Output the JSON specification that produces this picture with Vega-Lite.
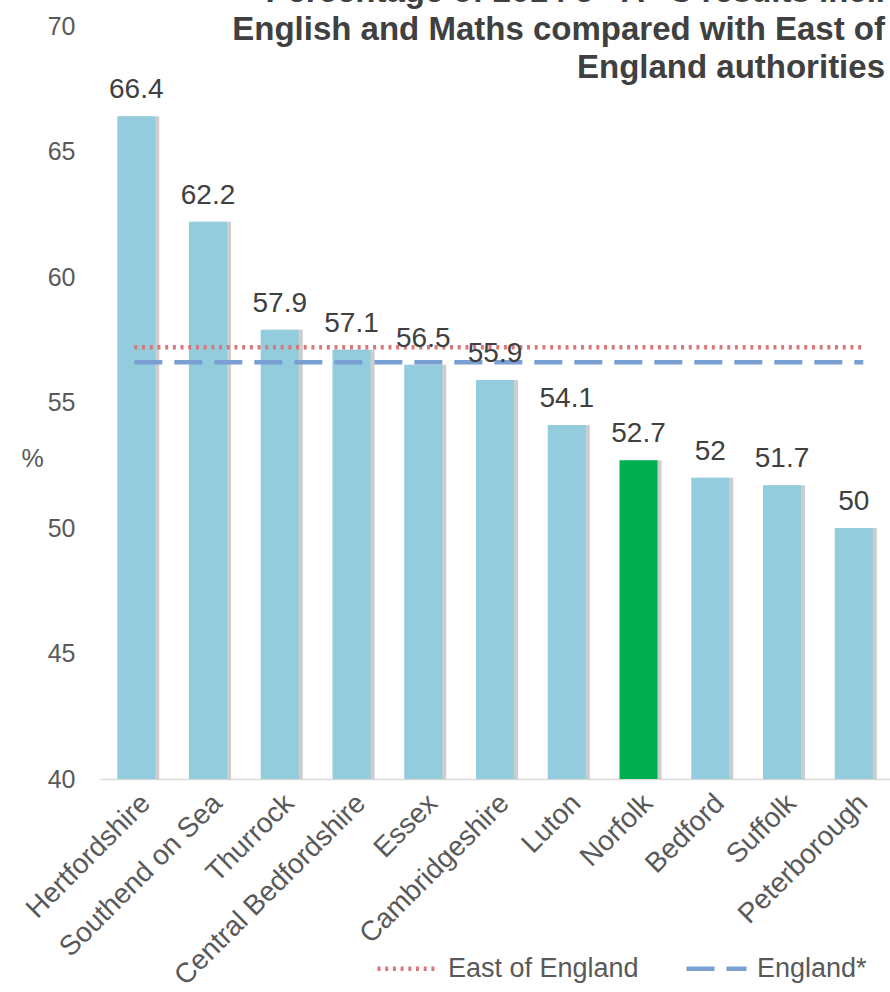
{
  "$schema": "https://vega.github.io/schema/vega-lite/v6.json",
  "width": 790,
  "height": 753,
  "autosize": {"type": "none"},
  "padding": {"left": 100, "top": 26, "right": 0, "bottom": 213},
  "background": "#ffffff",
  "config": {
    "font": "Liberation Sans",
    "view": {"stroke": null}
  },
  "title": {
    "text": ["Percentage of 2014 5+ A*-C results incl.", "English and Maths compared with East of", "England authorities"],
    "anchor": "end",
    "frame": "group",
    "fontSize": 33,
    "fontWeight": "bold",
    "color": "#404040",
    "lineHeight": 38,
    "font": "Liberation Sans",
    "offset": 0,
    "dy": 71,
    "dx": -5
  },
  "datasets": {
    "bars": [
      {"area": "Hertfordshire", "value": 66.4},
      {"area": "Southend on Sea", "value": 62.2},
      {"area": "Thurrock", "value": 57.9},
      {"area": "Central Bedfordshire", "value": 57.1},
      {"area": "Essex", "value": 56.5},
      {"area": "Cambridgeshire", "value": 55.9},
      {"area": "Luton", "value": 54.1},
      {"area": "Norfolk", "value": 52.7},
      {"area": "Bedford", "value": 52},
      {"area": "Suffolk", "value": 51.7},
      {"area": "Peterborough", "value": 50}
    ],
    "lines": [
      {"series": "East of England", "value": 57.2, "from": "Hertfordshire", "to": "Peterborough"},
      {"series": "England*", "value": 56.6, "from": "Hertfordshire", "to": "Peterborough"}
    ]
  },
  "layer": [
    {
      "data": {"name": "bars"},
      "mark": {"type": "bar", "xOffset": 4, "fill": "#6f6f6f", "opacity": 0.35, "clip": true},
      "encoding": {
        "x": {
          "field": "area", "type": "nominal",
          "scale": {"domain": ["Hertfordshire", "Southend on Sea", "Thurrock", "Central Bedfordshire", "Essex", "Cambridgeshire", "Luton", "Norfolk", "Bedford", "Suffolk", "Peterborough"], "paddingInner": 0.47, "paddingOuter": 0.24},
          "axis": {
            "title": null, "labelAngle": -45, "labelFontSize": 28, "labelColor": "#595959",
            "ticks": false, "domainColor": "#D9D9D9", "domainWidth": 1.5, "labelPadding": 10,
            "labelFont": "Liberation Sans", "labelLimit": 400
          }
        },
        "y": {
          "field": "value", "type": "quantitative",
          "scale": {"domain": [40, 70], "nice": false, "zero": false},
          "axis": {
            "title": "%", "titleAngle": 0, "titleFontSize": 25, "titleFontWeight": "normal", "titleColor": "#595959",
            "titleX": -68, "titleY": 432, "titleAlign": "center", "titleBaseline": "middle", "titleFont": "Liberation Sans",
            "values": [40, 45, 50, 55, 60, 65, 70], "labelFontSize": 25, "labelColor": "#595959",
            "grid": false, "domain": false, "ticks": false, "labelPadding": 25, "labelFont": "Liberation Sans"
          }
        }
      }
    },
    {
      "data": {"name": "bars"},
      "mark": {"type": "bar", "clip": true},
      "encoding": {
        "x": {"field": "area", "type": "nominal"},
        "y": {"field": "value", "type": "quantitative"},
        "color": {"condition": {"test": "datum.area === 'Norfolk'", "value": "#00B050"}, "value": "#93CDDD"}
      }
    },
    {
      "data": {"name": "lines"},
      "mark": {"type": "rule", "strokeWidth": 4.5, "strokeCap": "butt"},
      "encoding": {
        "x": {"field": "from", "type": "nominal", "bandPosition": 0.45},
        "x2": {"field": "to", "bandPosition": 0.75},
        "y": {"field": "value", "type": "quantitative"},
        "color": {
          "field": "series", "type": "nominal",
          "scale": {"domain": ["East of England", "England*"], "range": ["#D9777A", "#7A9FD2"]},
          "legend": {
            "title": null, "orient": "none", "direction": "horizontal", "legendX": 275, "legendY": 910,
            "symbolType": "stroke", "symbolSize": 3600, "symbolStrokeWidth": 4.5,
            "labelFontSize": 27, "labelColor": "#595959", "labelFont": "Liberation Sans", "labelLimit": 400,
            "columnPadding": 38, "labelOffset": 8
          }
        },
        "strokeDash": {
          "field": "series", "type": "nominal",
          "scale": {"domain": ["East of England", "England*"], "range": [[3, 4.7], [28, 12]]}
        }
      }
    },
    {
      "data": {"name": "bars"},
      "mark": {"type": "text", "baseline": "bottom", "dy": -12, "fontSize": 28, "color": "#404040", "font": "Liberation Sans"},
      "encoding": {
        "x": {"field": "area", "type": "nominal"},
        "y": {"field": "value", "type": "quantitative"},
        "text": {"field": "value", "type": "quantitative"}
      }
    }
  ]
}
